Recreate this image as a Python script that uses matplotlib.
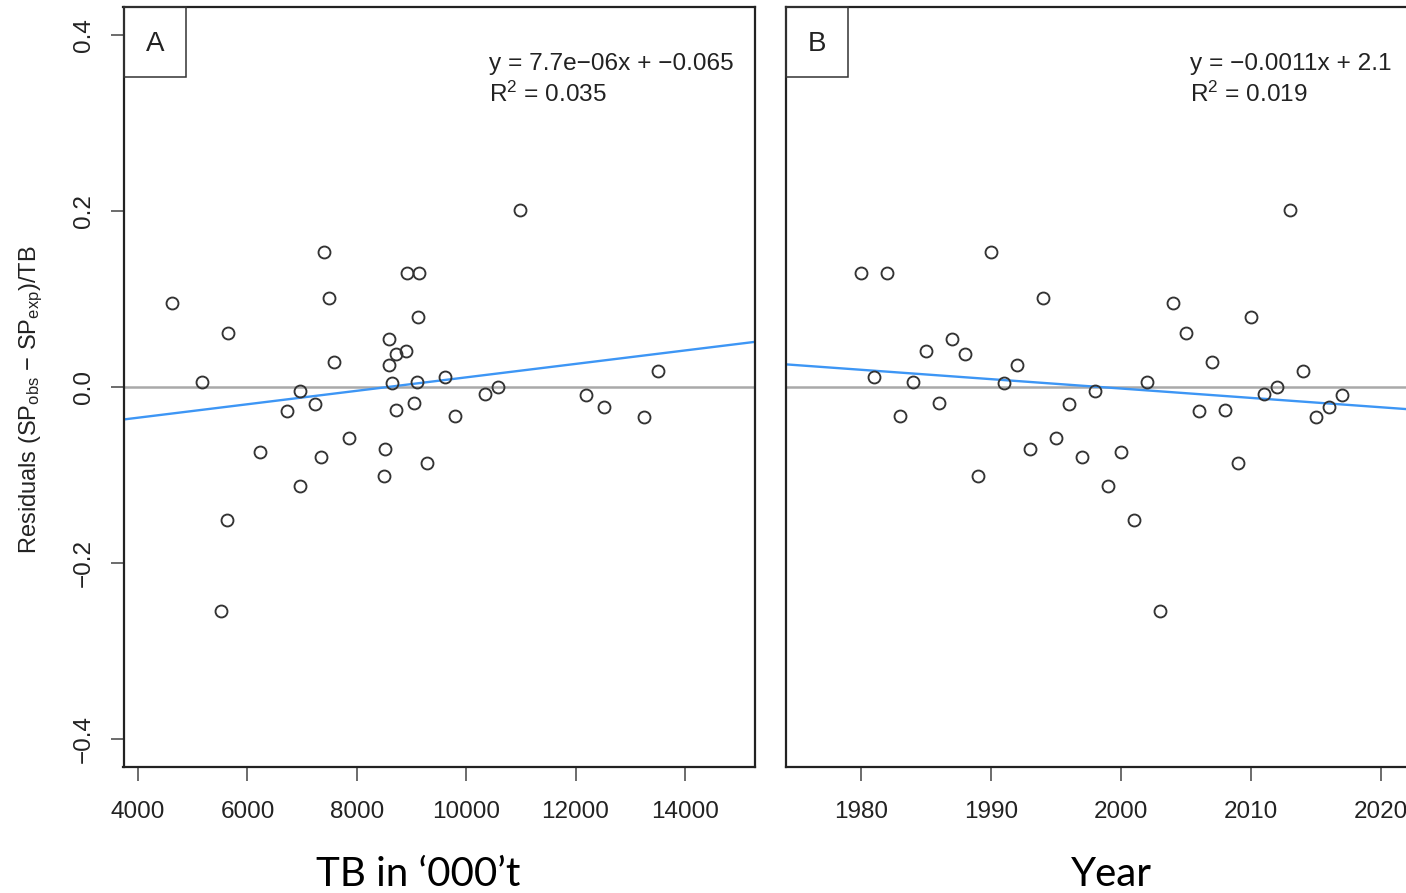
import numpy as np
import matplotlib.pyplot as plt
from matplotlib.patches import Rectangle

plt.rcParams['font.family'] = ['Liberation Sans', 'DejaVu Sans']
plt.rcParams['mathtext.fontset'] = 'custom'
plt.rcParams['mathtext.rm'] = 'Liberation Sans'
plt.rcParams['mathtext.it'] = 'Liberation Sans:italic'

# data (one point per year, same residual in both panels)
years = list(range(1980, 2018))
tb = [9132, 9607, 8923, 9801, 9095, 8899, 9051, 8589, 8711, 8497,
      7405, 8643, 8594, 8510, 7497, 7865, 7230, 7340, 6966, 6966,
      6235, 5629, 5165, 5512, 4620, 5644, 6723, 7577, 8711, 9284,
      9113, 10344, 10588, 10984, 13503, 13252, 12526, 12186]
resid = [0.1303, 0.0114, 0.1303, -0.0322, 0.0060, 0.0415, -0.0176, 0.0545, 0.0383, -0.1005,
         0.1536, 0.0045, 0.0250, -0.0697, 0.1019, -0.0580, -0.0190, -0.0795, -0.0045, -0.1125,
         -0.0733, -0.1505, 0.0057, -0.2540, 0.0957, 0.0622, -0.0265, 0.0292, -0.0259, -0.0864,
         0.0799, -0.0076, 0.0003, 0.2019, 0.0188, -0.0338, -0.0219, -0.0091]

eq_text = {'A': ['y = 7.7e\u221206x + \u22120.065', 'R$^{2}$ = 0.035'],
           'B': ['y = \u22120.0011x + 2.1', 'R$^{2}$ = 0.019']}
xticks_A = [4000, 6000, 8000, 10000, 12000, 14000]
xticks_B = [1980, 1990, 2000, 2010, 2020]
yticks = [-0.4, -0.2, 0.0, 0.2, 0.4]
ytick_labels = ['\u22120.4', '\u22120.2', '0.0', '0.2', '0.4']

W, H = 1406, 893
fig = plt.figure(figsize=(W / 100, H / 100), dpi=100)


def box(l, t, r, b):
    return [l / W, 1 - b / H, (r - l) / W, (b - t) / H]


axA = fig.add_axes(box(123.5, 7.3, 755.2, 767.3))
axB = fig.add_axes(box(785.5, 7.3, 785.5 + 631.7, 767.3))

dark = '#222222'
panels = [(axA, tb, (3733, 15286), xticks_A, 'A', 0.578),
          (axB, years, (1974.2, 2022.8), xticks_B, 'B', 0.641)]

for ax, x, xlim, xt, letter, tx in panels:
    ax.axhline(0, color='#a9a9a9', lw=1.8, zorder=1)
    k, b0 = np.polyfit(x, resid, 1)
    xx = np.array(xlim)
    ax.plot(xx, k * xx + b0, color='#3d96f5', lw=1.7, zorder=2)
    ax.plot(x, resid, 'o', ms=8.6, mfc='none', mec='#333333', mew=1.35, zorder=3)
    ax.set_xlim(*xlim)
    ax.set_ylim(-0.432, 0.432)
    ax.set_xticks(xt)
    ax.set_xticklabels([str(v) for v in xt])
    ax.tick_params(axis='x', direction='out', length=10.4, width=1.1, color='#444444',
                   labelsize=17.5, labelcolor=dark, pad=14)
    for s in ax.spines.values():
        s.set_linewidth(1.6)
        s.set_color(dark)
    # panel letter box
    ax.add_patch(Rectangle((0, 1 - 69.7 / 760), 62.8 / 631.7, 69.7 / 760,
                           transform=ax.transAxes, fill=False, lw=1.1, ec='#333333',
                           clip_on=False, zorder=4))
    ax.text(31.4 / 631.7, 1 - 36.5 / 760, letter, transform=ax.transAxes,
            ha='center', va='center', fontsize=20, color=dark)
    ax.text(tx, 0.926, eq_text[letter][0], transform=ax.transAxes,
            ha='left', va='center', fontsize=17.6, color=dark)
    ax.text(tx, 0.885, eq_text[letter][1], transform=ax.transAxes,
            ha='left', va='center', fontsize=17.6, color=dark)

axA.set_yticks(yticks)
axA.set_yticklabels(ytick_labels, rotation=90, va='center')
axA.tick_params(axis='y', direction='out', length=9.5, width=1.1, color='#444444',
                labelsize=17.5, labelcolor=dark, pad=11)
axB.set_yticks([])

fig.text(31 / W, 1 - 400 / H,
         'Residuals (SP$_{\\mathrm{obs}}$ \u2212 SP$_{\\mathrm{exp}}$)/TB',
         rotation=90, ha='center', va='center', fontsize=17, color=dark)

fig.text(418 / W, 1 - 886 / H, 'TB in \u2018000\u2019t', ha='center', va='baseline',
         fontsize=29, family=['Lato', 'DejaVu Sans'], color='black')
fig.text(1111 / W, 1 - 886 / H, 'Year', ha='center', va='baseline',
         fontsize=29, family=['Lato', 'DejaVu Sans'], color='black')

fig.savefig('out.png', dpi=100)
